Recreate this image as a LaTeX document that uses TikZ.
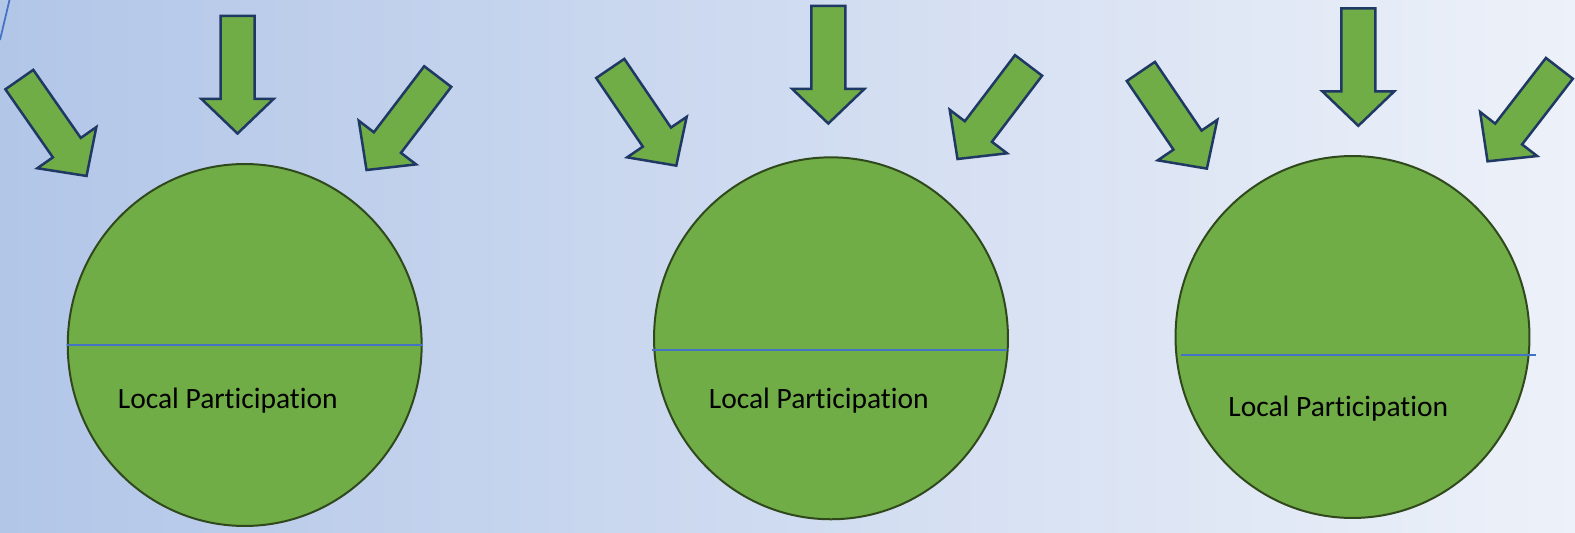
\documentclass[tikz,border=0pt]{standalone}
\usepackage{fontspec}
\setmainfont[Ligatures={NoCommon}]{Carlito}
\usetikzlibrary{shapes.geometric}
\definecolor{leafgreen}{HTML}{70AD47}
\definecolor{darkleaf}{HTML}{30491C}
\definecolor{navyline}{HTML}{1F3864}
\definecolor{midblue}{HTML}{4472C4}
\definecolor{bgleft}{HTML}{B2C6E8}
\definecolor{bgright}{HTML}{EDF1F9}
\tikzset{
  blob/.style={shape=ellipse,draw=darkleaf,fill=leafgreen,line width=0.04cm,
    minimum width=7.08cm,minimum height=7.24cm,inner sep=0pt},
  parttext/.style={inner sep=0pt,anchor=base west,font=\fontsize{16.8}{20}\selectfont},
  inarrow/.style={draw=navyline,fill=leafgreen,line width=0.05cm,line join=miter},
  splitline/.style={draw=midblue,line width=0.045cm}
}
\begin{document}
\begin{tikzpicture}[x=0.02cm,y=-0.02cm]
    \shade[left color=bgleft,right color=bgright] (0,0) rectangle (1575,533);
    \useasboundingbox (0,0) rectangle (1575,533);
    \draw[midblue,line width=0.035cm] (0,40) -- (9.5,0);
    % the three circles
    \node[blob] (c1) at (244.7,345) {};
    \node[blob] (c2) at (831,338.3) {};
    \node[blob] (c3) at (1352.5,337) {};
    \path[splitline] (c1.west) -- (c1.east);
    \path[splitline] (652,350) -- (1007,350);
    \path[splitline] (1181,355.3) -- (1536,355.3);
    \node[parttext] (t1) at (117.5,408.3) {Local Participation};
    \node[parttext] (t2) at (708.5,408.3) {Local Participation};
    \node[parttext] (t3) at (1228,416.7) {Local Participation};
    % arrows pointing in
    \foreach \x/\y/\a in {88/178/-55.1, 237.5/136/-90, 365/172/-127.3,
                          677.7/167.7/-55.8, 828.3/126/-90, 956/161/-127.2,
                          1208.3/170.7/-55.8, 1358.3/128.3/-90, 1486/163.3/-127.7}
        \draw[inarrow,shift={(\x,\y)},rotate=\a] (-2.5,0) -- (-37,36) -- (-37,17) -- (-120,17)
            -- (-120,-17) -- (-37,-17) -- (-37,-36) -- cycle;
\end{tikzpicture}
\end{document}
